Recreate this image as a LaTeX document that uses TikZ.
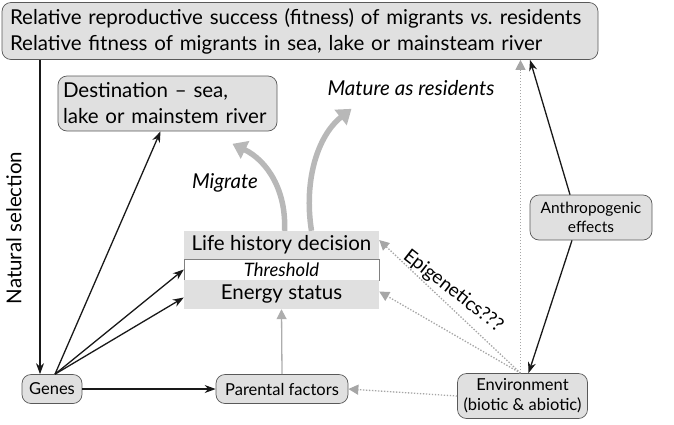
\documentclass[tikz,border=0pt]{standalone}
\usepackage{fontspec}
\setmainfont{Lato}
\usetikzlibrary{arrows.meta,calc}
\begin{document}
\begin{tikzpicture}[x=1pt,y=-1pt,
  box/.style={draw=black!65, fill=black!12, rounded corners=9pt, line width=0.7pt, inner sep=0pt},
  big/.style={font=\fontsize{20.5}{26}\selectfont},
  bigit/.style={font=\fontsize{20.5}{26}\selectfont\itshape},
  mid/.style={font=\fontsize{16.5}{20}\selectfont},
  blk/.style={-{Stealth[length=11pt,width=8pt]}, line width=1.3pt, draw=black!90},
  gry/.style={draw=black!32, -{Triangle[length=10pt,width=10pt]}, line width=1.3pt},
  dotg/.style={gry, dash pattern=on 1.4pt off 1.6pt, draw=black!35},
  fat/.style={draw=black!28, line width=5.5pt, -{Triangle[length=14pt,width=19pt]}}]
\useasboundingbox (0,0) rectangle (674,424);

\node[box, big, minimum width=596pt, minimum height=57pt, text width=580pt, align=left] (top) at (300,31)
  {Relative reproductive success (fitness) of migrants \textit{vs.}\ residents\\Relative fitness of migrants in sea, lake or mainsteam river};
\node[box, big, minimum width=219pt, minimum height=55pt, text width=209pt, align=left] (dest) at (167.5,103.5)
  {Destination – sea,\\lake or mainstem river};
\node[bigit] (mature) at (411,88) {Mature as residents};
\node[bigit] (migr) at (225,183) {Migrate};

\node[fill=black!12, minimum width=195pt, minimum height=28pt, inner sep=0pt, big] (lhd) at (281.5,245) {Life history decision};
\node[draw=black!50, fill=white, minimum width=195pt, minimum height=21pt, inner sep=0pt, font=\fontsize{18.5}{20}\selectfont\itshape] (thr) at (281.5,269.5) {Threshold};
\node[fill=black!12, minimum width=195pt, minimum height=29pt, inner sep=0pt, big] (en) at (281.5,294.5) {Energy status};

\node[box, font=\fontsize{15.5}{19}\selectfont, minimum width=122pt, minimum height=45pt, align=center] (anth) at (591,217.5) {Anthropogenic\\effects};
\node[box, mid, minimum width=60pt, minimum height=29pt] (genes) at (52,389) {Genes};
\node[box, mid, minimum width=132pt, minimum height=29pt] (par) at (282,389) {Parental factors};
\node[box, mid, minimum width=130pt, minimum height=45pt, align=center] (env) at (522.5,396) {Environment\\(biotic \& abiotic)};

\node[big, rotate=90] (nslab) at (14,228) {Natural selection};

% natural selection
\draw[blk] (top.south -| 40,0) -- ([xshift=-12pt]genes.north);
% genes arrows
\coordinate (g0) at ([xshift=3pt]genes.north);
\draw[blk] (g0) -- ([xshift=-7pt]dest.south);
\draw[blk] (g0) -- (thr.west);
\draw[blk] (g0) -- ([yshift=-3pt]en.west);
\draw[blk] (genes.east) -- (par.west);
% parental -> energy
\draw[gry] (par.north) -- (en.south);
% environment dotted
\coordinate (e0) at ([xshift=-2pt]env.north);
\draw[dotg] (env.west) -- (par.east);
\draw[dotg] (e0) -- ([yshift=3pt]en.east);
\draw[dotg] (e0) -- ([yshift=5pt]lhd.east);
\draw[dotg] (e0) -- (top.south -| e0);
% anthropogenic
\draw[blk] ([xshift=-21pt]anth.north) -- ([xshift=230pt]top.south);
\draw[blk] ([xshift=-19pt]anth.south) -- ([xshift=6pt]env.north);
% epigenetics label
\node[rotate=-38, font=\fontsize{19}{22}\selectfont] (epi) at (453,291) {Epigenetics???};
% fat arrows
\draw[fat] ([xshift=3pt]lhd.north) .. controls ([xshift=5pt,yshift=40pt]lhd.north) and ([xshift=-14pt,yshift=70pt]lhd.north) .. ([xshift=-49pt,yshift=87pt]lhd.north);
\draw[fat] ([xshift=30pt]lhd.north) .. controls ([xshift=22pt,yshift=50pt]lhd.north) and ([xshift=36pt,yshift=95pt]lhd.north) .. ([xshift=70pt,yshift=122pt]lhd.north);
\end{tikzpicture}
\end{document}
